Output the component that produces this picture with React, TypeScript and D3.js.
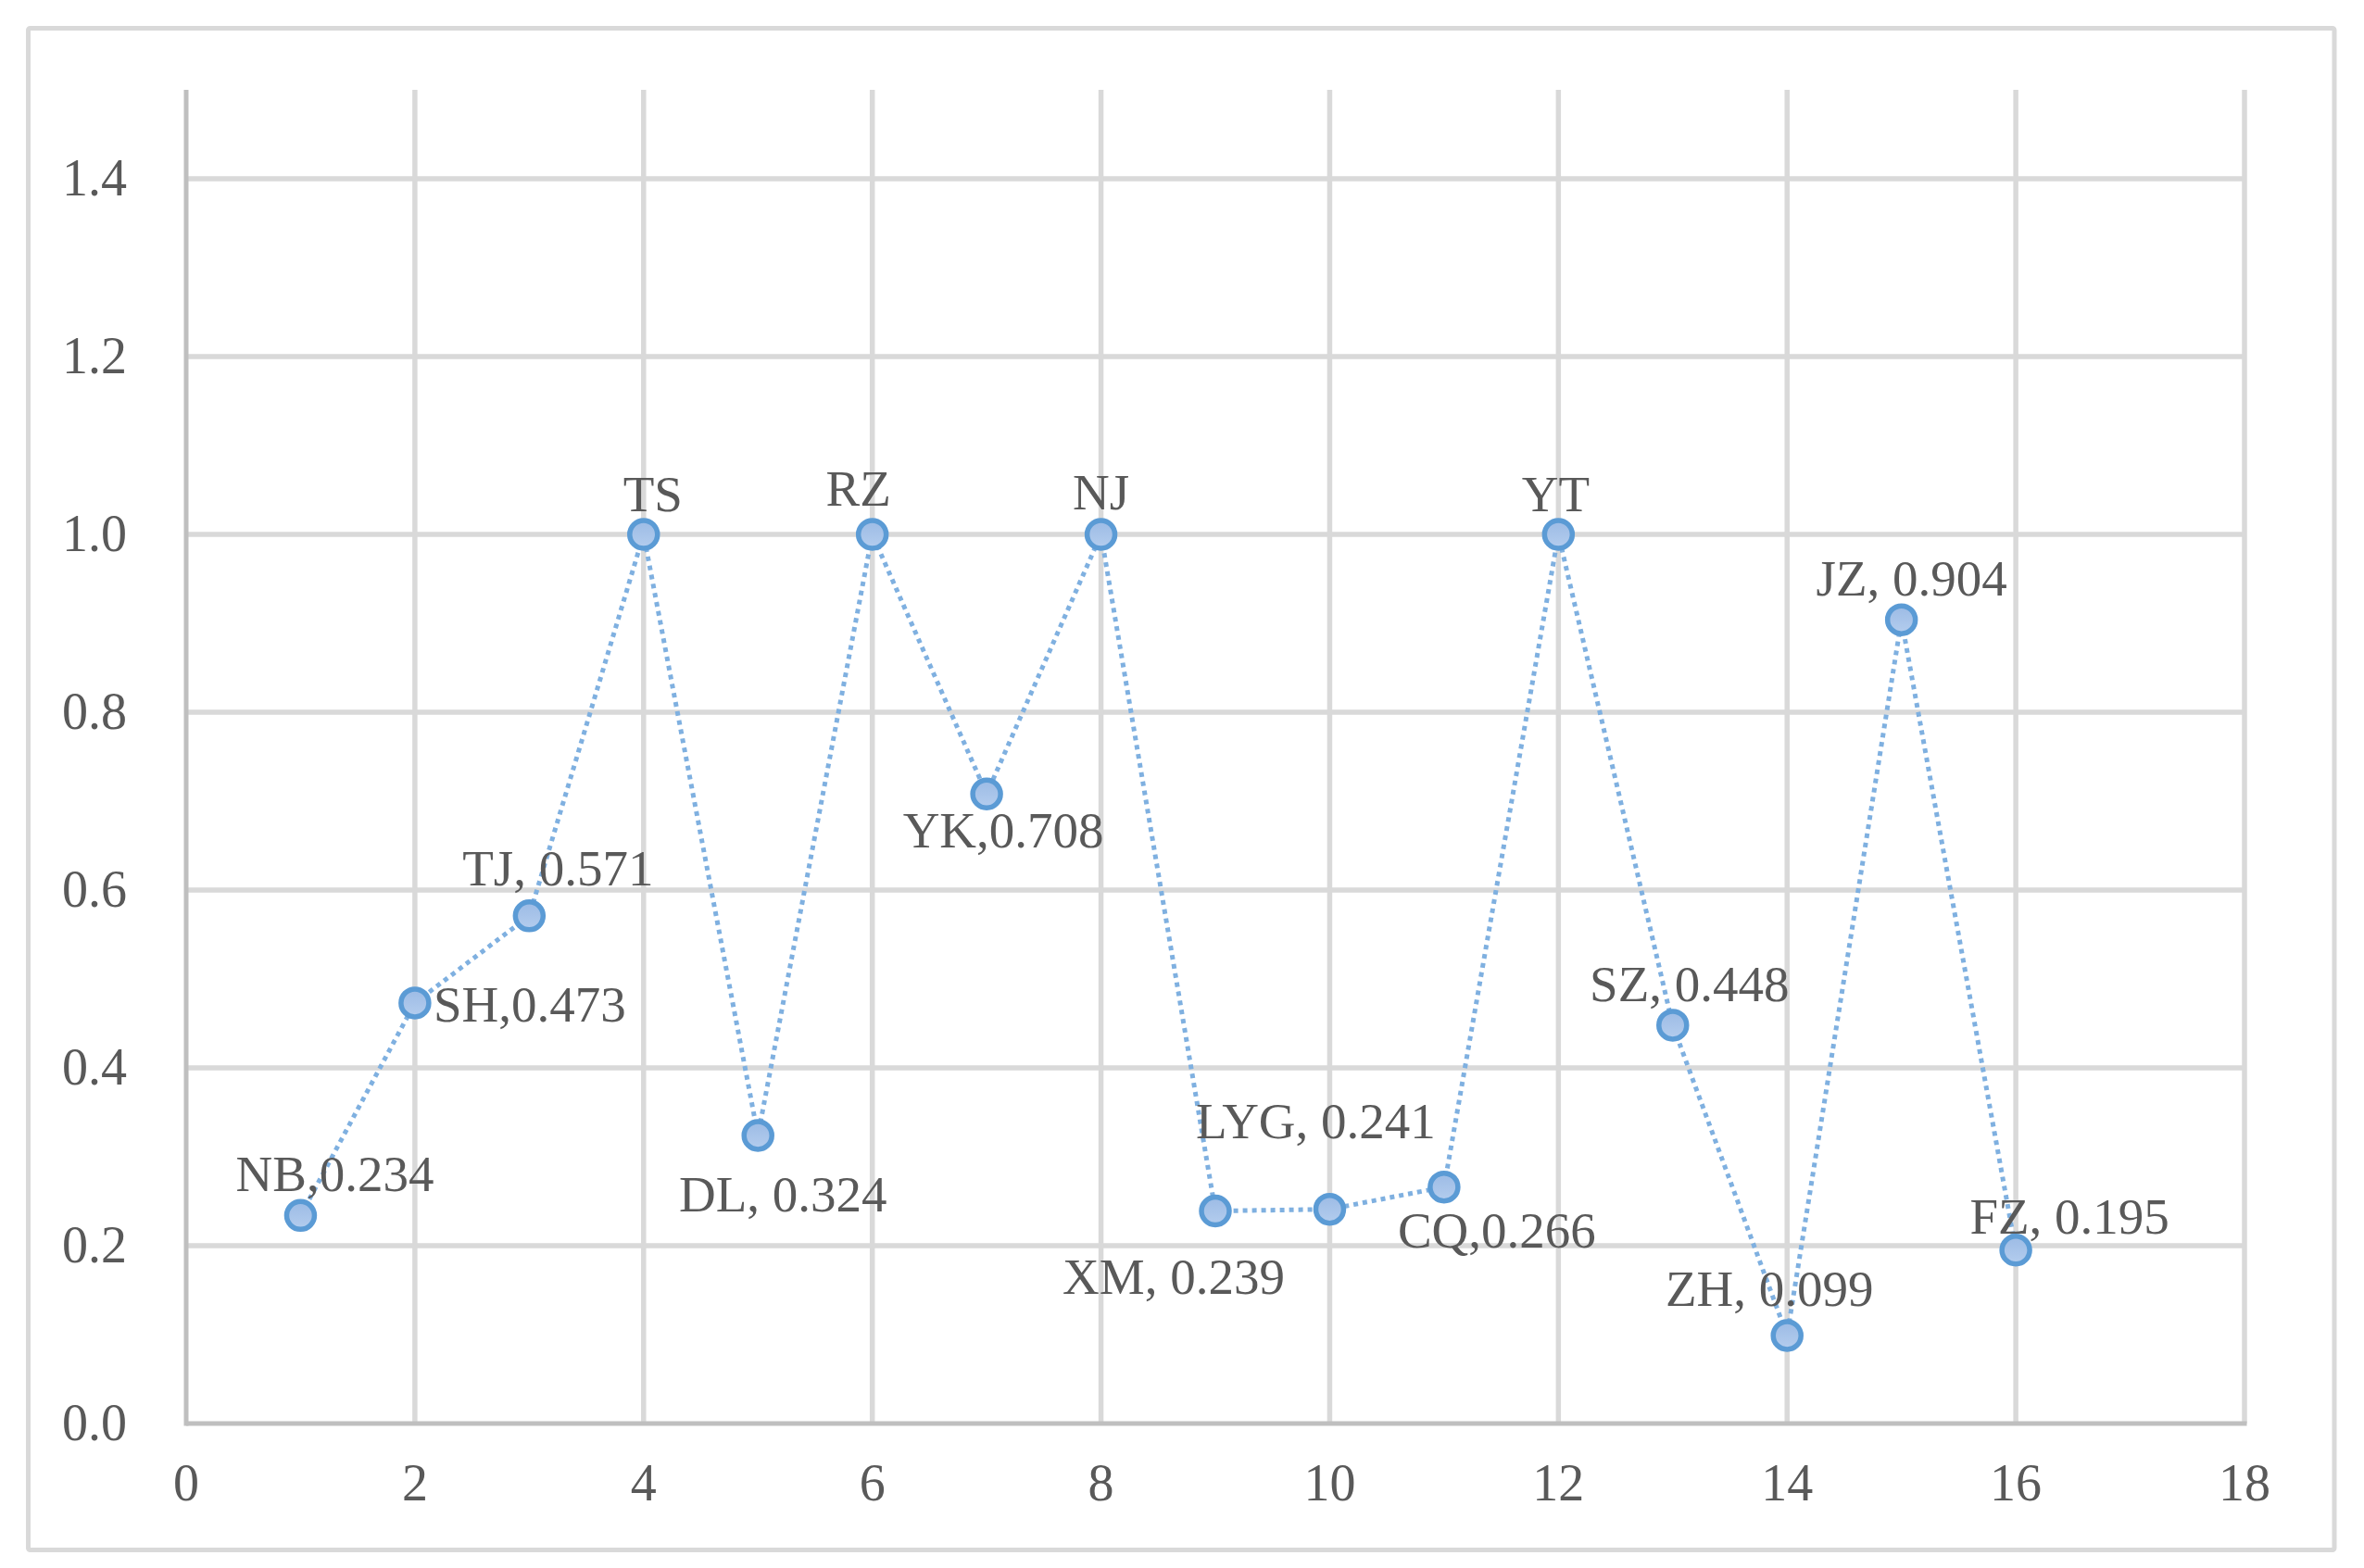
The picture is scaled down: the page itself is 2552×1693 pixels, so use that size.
import React from "react";
import * as d3 from "d3";

// ---- data ----
const xValues = [1, 2, 3, 4, 5, 6, 7, 8, 9, 10, 11, 12, 13, 14, 15, 16];
const yValues = [0.234, 0.473, 0.571, 1.0, 0.324, 1.0, 0.708, 1.0, 0.239, 0.241, 0.266, 1.0, 0.448, 0.099, 0.904, 0.195];
const cityNames = ["NB", "SH", "TJ", "TS", "DL", "RZ", "YK", "NJ", "XM", "LYG", "CQ", "YT", "SZ", "ZH", "JZ", "FZ"];
// separator between name and value in each data label (null = name only)
const labelSeparators: (string | null)[] = [",", ",", ", ", null, ", ", null, ",", null, ", ", ", ", ",", null, ", ", ", ", ", ", ", "];
const xTicks = [0, 2, 4, 6, 8, 10, 12, 14, 16, 18];
const yTicks = [0.0, 0.2, 0.4, 0.6, 0.8, 1.0, 1.2, 1.4];

// ---- layout (label offsets from the marker: [dx to text centre, dy to baseline]) ----
const labelOffsets: [number, number][] = [
  [37, -26], [124, 20], [31, -33], [10, -25], [27, 82], [-15, -31], [18, 58], [0, -27],
  [-45, 89], [-15, -77], [57, 65], [-3, -25], [18, -26], [-19, -32], [11, -26], [58, -18],
];

const W = 2552;
const H = 1693;
const FONT = '"Liberation Serif", "Times New Roman", serif';
const TEXT = "#595959";
const GRID = "#d9d9d9";
const AXIS = "#bfbfbf";

export default function App() {
  const x = d3.scaleLinear().domain([0, 18]).range([201, 2423]);
  const y = d3.scaleLinear().domain([0, 1.5]).range([1537, 97]);

  const pts = xValues.map((xv, i) => ({ x: xv, y: yValues[i], i }));
  const line = d3
    .line<{ x: number; y: number }>()
    .x((d) => x(d.x))
    .y((d) => y(d.y));

  const fmt = d3.format(".3f");

  return (
    <svg
      width={W}
      height={H}
      style={{ position: "absolute", left: 0, top: 0, background: "#fff" }}
    >
      <defs>
        <linearGradient id="mk" x1="0" y1="0" x2="0" y2="1">
          <stop offset="0%" stopColor="#9cbbe5" />
          <stop offset="100%" stopColor="#b4cdee" />
        </linearGradient>
      </defs>
      <rect x={0} y={0} width={W} height={H} fill="#fff" />
      {/* outer chart border */}
      <rect x={30.5} y={30.5} width={2489.5} height={1643} fill="none" stroke={GRID} strokeWidth={5} rx={2} />

      {/* horizontal gridlines */}
      {yTicks.filter((t) => t > 0).map((t) => (
        <line key={"h" + t} x1={x(0)} x2={x(18)} y1={y(t)} y2={y(t)} stroke={GRID} strokeWidth={5.5} />
      ))}
      {/* vertical gridlines */}
      {xTicks.filter((t) => t > 0).map((t) => (
        <line key={"v" + t} x1={x(t)} x2={x(t)} y1={y(1.5)} y2={y(0)} stroke={GRID} strokeWidth={5.5} />
      ))}
      {/* axes */}
      <line x1={x(0)} x2={x(0)} y1={y(1.5)} y2={y(0) + 2.5} stroke={AXIS} strokeWidth={5} />
      <line x1={x(0)} x2={x(18) + 2.5} y1={y(0)} y2={y(0)} stroke={AXIS} strokeWidth={5} />

      {/* y tick labels */}
      {yTicks.map((t) => (
        <text key={"yl" + t} x={x(0) - 64} y={y(t) + 18} textAnchor="end" fontFamily={FONT} fontSize={56} fill={TEXT}>
          {t.toFixed(1)}
        </text>
      ))}
      {/* x tick labels */}
      {xTicks.map((t) => (
        <text key={"xl" + t} x={x(t)} y={y(0) + 83} textAnchor="middle" fontFamily={FONT} fontSize={56} fill={TEXT}>
          {t}
        </text>
      ))}

      {/* series line */}
      <path
        d={line(pts) || ""}
        fill="none"
        stroke="#7fb0e0"
        strokeWidth={5}
        strokeDasharray="5 5"
      />
      {/* markers */}
      {pts.map((p) => (
        <circle key={"c" + p.i} cx={x(p.x)} cy={y(p.y)} r={15} fill="url(#mk)" stroke="#5b9bd5" strokeWidth={5.5} />
      ))}

      {/* data labels */}
      {pts.map((p) => {
        const sep = labelSeparators[p.i];
        const txt = sep === null ? cityNames[p.i] : cityNames[p.i] + sep + fmt(p.y);
        const [dx, dy] = labelOffsets[p.i];
        return (
          <text
            key={"dl" + p.i}
            x={x(p.x) + dx}
            y={y(p.y) + dy}
            textAnchor="middle"
            fontFamily={FONT}
            fontSize={55}
            fill={TEXT}
          >
            {txt}
          </text>
        );
      })}
    </svg>
  );
}
